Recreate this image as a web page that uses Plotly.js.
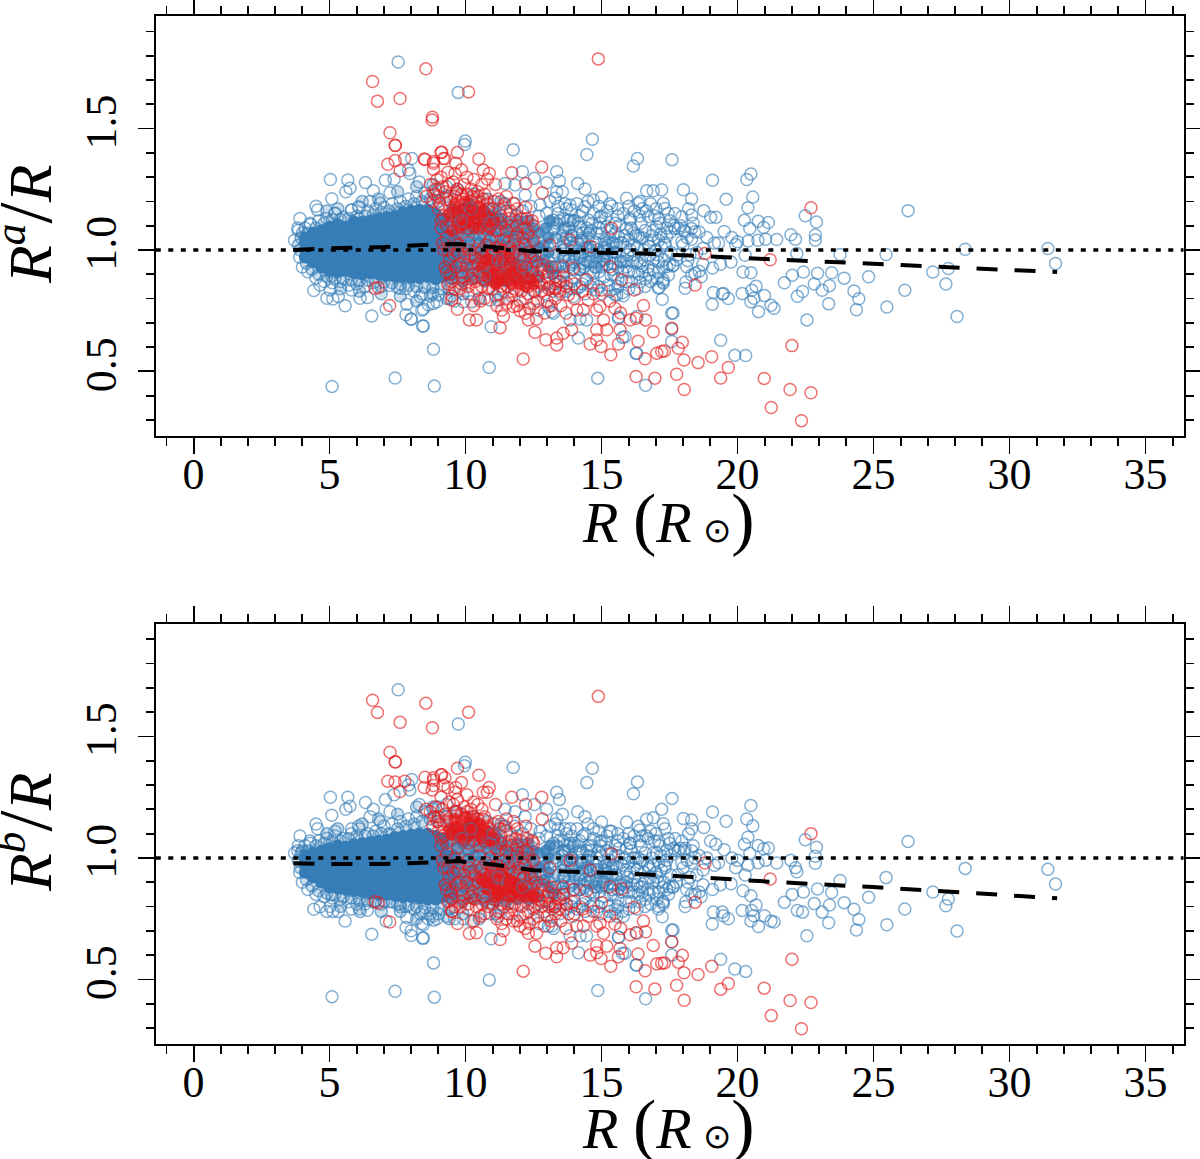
<!DOCTYPE html>
<html><head><meta charset="utf-8">
<script src="https://cdn.plot.ly/plotly-3.0.1.min.js"></script>
<style>html,body{margin:0;padding:0;background:#fff}</style></head>
<body><div id="chart" style="width:1200px;height:1159px"></div>
<script>
// each row: [R, R^a/R, R^b/R]
const blueCore=[[4.1,.97,.94],[4.1,1,.97],[4.1,1.03,.995],[4.12,1.05,1.01],
[4.4,.95,.92],[4.4,.98,.95],[4.42,1.01,.98],[4.4,1.04,1],[4.4,1.07,1.02],
[4.7,.93,.9],[4.7,.96,.93],[4.72,.99,.96],[4.7,1.02,.99],[4.7,1.05,1.01],[4.72,1.08,1.03],
[5,.915,.88],[5,.945,.91],[5.02,.975,.94],[5,1.005,.97],[5,1.035,1],[5.02,1.065,1.02],[5,1.095,1.04],
[5.3,.91,.875],[5.3,.94,.905],[5.32,.97,.935],[5.3,1,.965],[5.3,1.03,.995],[5.32,1.06,1.02],[5.3,1.09,1.04],[5.3,1.105,1.05],
[5.6,.915,.87],[5.6,.945,.9],[5.62,.975,.93],[5.6,1.005,.96],[5.6,1.035,.99],[5.62,1.065,1.02],[5.6,1.095,1.045],
[5.9,.905,.865],[5.9,.935,.895],[5.92,.965,.925],[5.9,.995,.955],[5.9,1.025,.985],[5.92,1.055,1.015],[5.9,1.085,1.04],[5.9,1.115,1.055],
[6.2,.9,.86],[6.2,.93,.89],[6.22,.96,.92],[6.2,.99,.95],[6.2,1.02,.98],[6.22,1.05,1.01],[6.2,1.08,1.04],[6.2,1.115,1.06],
[6.5,.905,.855],[6.5,.935,.885],[6.52,.965,.915],[6.5,.995,.945],[6.5,1.025,.975],[6.52,1.055,1.005],[6.5,1.085,1.035],[6.5,1.12,1.065],
[6.8,.9,.85],[6.8,.93,.88],[6.82,.96,.91],[6.8,.99,.94],[6.8,1.02,.97],[6.82,1.05,1],[6.8,1.08,1.03],[6.8,1.11,1.055],[6.8,1.13,1.07],
[7.1,.895,.85],[7.1,.925,.88],[7.12,.955,.91],[7.1,.985,.94],[7.1,1.015,.97],[7.12,1.045,1],[7.1,1.075,1.03],[7.1,1.105,1.06],[7.1,1.135,1.075],
[7.4,.89,.845],[7.4,.92,.875],[7.42,.95,.905],[7.4,.98,.935],[7.4,1.01,.965],[7.42,1.04,.995],[7.4,1.07,1.025],[7.4,1.1,1.055],[7.4,1.14,1.085],
[7.7,.89,.84],[7.7,.92,.87],[7.72,.95,.9],[7.7,.98,.93],[7.7,1.01,.96],[7.72,1.04,.99],[7.7,1.07,1.02],[7.7,1.1,1.05],[7.7,1.13,1.075],[7.7,1.155,1.09],
[8,.885,.84],[8,.915,.87],[8.02,.945,.9],[8,.975,.93],[8,1.005,.96],[8.02,1.035,.99],[8,1.065,1.02],[8,1.095,1.05],[8,1.125,1.08],[8,1.16,1.095],
[8.3,.885,.835],[8.3,.915,.865],[8.32,.945,.895],[8.3,.975,.925],[8.3,1.005,.955],[8.32,1.035,.985],[8.3,1.065,1.015],[8.3,1.095,1.045],[8.3,1.125,1.075],[8.3,1.165,1.1],
[8.6,.89,.83],[8.6,.92,.86],[8.62,.95,.89],[8.6,.98,.92],[8.6,1.01,.95],[8.62,1.04,.98],[8.6,1.07,1.01],[8.6,1.1,1.04],[8.6,1.13,1.07],[8.6,1.165,1.1],
[8.9,.88,.83],[8.9,.91,.86],[8.9,.94,.89],[8.92,.97,.92],[8.9,1,.95],[8.9,1.03,.98],[8.92,1.06,1.01],[8.9,1.09,1.04],[8.9,1.12,1.07],[8.9,1.15,1.09],
[9.2,.89,.84],[9.2,.92,.87],[9.2,.95,.9],[9.22,.98,.93],[9.2,1.01,.96],[9.2,1.04,.99],[9.2,1.07,1.02],[9.2,1.1,1.05],[9.2,1.13,1.08],
[9.5,.9,.85],[9.5,.94,.89],[9.5,.98,.93],[9.5,1.02,.97],[9.5,1.06,1.01]];
const blueMidFill=[[9.5,.88,.83],[9.5,.94,.89],[9.5,1,.95],[9.5,1.06,1.01],[9.5,1.12,1.07],[9.5,1.17,1.12],
[9.9,.87,.82],[9.9,.93,.88],[9.9,.99,.94],[9.9,1.05,1],[9.9,1.11,1.06],[9.9,1.17,1.12],
[10.3,.88,.83],[10.3,.94,.89],[10.3,1,.95],[10.3,1.06,1.01],[10.3,1.12,1.07],[10.3,1.17,1.11],
[10.7,.87,.82],[10.7,.93,.88],[10.7,.99,.94],[10.7,1.05,1],[10.7,1.11,1.06],[10.7,1.16,1.1],
[11.1,.87,.82],[11.1,.93,.88],[11.1,.99,.94],[11.1,1.05,1],[11.1,1.11,1.05],[11.1,1.15,1.09],
[11.5,.87,.82],[11.5,.93,.88],[11.5,.99,.94],[11.5,1.05,1],[11.5,1.11,1.05],
[11.9,.88,.83],[11.9,.94,.89],[11.9,1,.95],[11.9,1.06,1.01],[11.9,1.12,1.06],
[12.3,.88,.83],[12.3,.94,.89],[12.3,1,.95],[12.3,1.06,1.01],[12.3,1.12,1.06],
[12.7,.89,.84],[12.7,.95,.9],[12.7,1.01,.96],[12.7,1.07,1.02],
[13.05,.93,.88],[13.05,.99,.94],[13.05,1.05,1],
[9.7,.91,.86],[9.7,.97,.92],[9.7,1.03,.98],[9.7,1.09,1.04],[9.7,1.15,1.1],[10.1,.9,.85],[10.1,.96,.91],[10.1,1.02,.97],[10.1,1.08,1.03],[10.1,1.14,1.09],[10.1,1.19,1.13],[10.5,.91,.86],[10.5,.97,.92],[10.5,1.03,.98],[10.5,1.09,1.04],[10.5,1.15,1.09],[10.9,.9,.85],[10.9,.96,.91],[10.9,1.02,.97],[10.9,1.08,1.03],[10.9,1.14,1.08],[11.3,.9,.85],[11.3,.96,.91],[11.3,1.02,.97],[11.3,1.08,1.03],[11.3,1.13,1.07],[11.7,.9,.85],[11.7,.96,.91],[11.7,1.02,.97],[11.7,1.08,1.02],[12.1,.91,.86],[12.1,.97,.92],[12.1,1.03,.98],[12.1,1.09,1.03],[12.5,.91,.86],[12.5,.97,.92],[12.5,1.03,.98],[12.5,1.09,1.03],[12.9,.96,.91],[12.9,1.02,.97],[12.95,1.09,1.03],[13.1,1.12,1.05],[13.2,.9,.85]];
const blueMidSoft=[[13.3,.93,.88],[13.3,.99,.94],[13.3,1.05,1],[13.35,1.11,1.05],[13.6,.91,.86],[13.6,.97,.92],[13.6,1.03,.98],[13.65,1.09,1.03],[13.9,.94,.89],[13.9,1,.95],[13.9,1.06,1],[13.95,1.12,1.05],[14.2,.92,.87],[14.2,.98,.93],[14.25,1.04,.98],[14.5,.95,.9],[14.5,1.01,.96],[14.55,1.07,1.01],[14.8,.93,.88],[14.85,.99,.94],[15.1,.96,.9],[15.15,1.03,.97],[15.4,.99,.93],[15.7,.95,.89]];
const blueRim=[[4.2,1.07,1.03],[4.5,1.09,1.05],[4.8,1.11,1.06],[5.1,1.125,1.07],[5.4,1.125,1.07],[5.7,1.13,1.08],[6,1.14,1.09],[6.3,1.14,1.09],[6.6,1.145,1.09],[6.9,1.155,1.1],[7.2,1.16,1.1],[7.5,1.17,1.12],[7.8,1.18,1.13],[8.1,1.19,1.14],[8.4,1.2,1.15],[8.7,1.21,1.16],[9,1.2,1.15],[4.15,.945,.91],[4.35,.92,.885],[4.6,.9,.865],[4.9,.89,.855],[5.2,.885,.85],[5.5,.88,.84],[5.8,.875,.835],[6.1,.875,.83],[6.4,.875,.825],[6.7,.87,.825],[7,.87,.82],[7.3,.865,.82],[7.6,.86,.81],[7.9,.855,.805],[8.2,.85,.8],[8.5,.845,.795],[8.8,.845,.795],[9.1,.84,.79],[9.4,.84,.79],[3.95,1.05,1.02],[4,1.07,1.03],[3.85,1.02,.99],[3.92,1,.96],[4.9,1.16,1.1],[5.3,1.17,1.12],[6.2,1.2,1.14],[6.8,1.21,1.16],[7.5,1.24,1.18],[8.2,1.26,1.21],[5.4,.84,.8],[6.1,.83,.79],[6.9,.82,.78],[7.6,.81,.78],[8.2,.79,.75],[8.8,.82,.76],[9.4,.8,.75],[9.9,.82,.77],[10.5,.8,.75],[11.1,.81,.77],[8.8,1.27,1.21],[9.3,1.22,1.17],[9.7,1.25,1.19],[10.3,1.23,1.17],[10.8,1.21,1.15],[11.3,1.2,1.14]];
const blueEdge=[[3.85,1.08,1.05],[3.83,1.09,1.03],[3.71,1.04,1.02],[3.91,1.13,1.09],[4.28,1.11,1.07],[4.5,1.18,1.14],[4.56,1.165,1.12],[4.1,1.09,1.05],[4.3,1.105,1.06],[4.6,1.12,1.07],[4.9,1.13,1.08],[5.2,1.15,1.09],[5.5,1.135,1.08],[5.8,1.165,1.1],[6.1,1.175,1.12],[6.4,1.16,1.1],[6.7,1.17,1.11],[7,1.175,1.13],[7.3,1.19,1.14],[7.6,1.2,1.15],[7.9,1.21,1.16],[8.2,1.22,1.17],[8.5,1.235,1.19],[8.8,1.24,1.2],[9,1.25,1.21],[9.3,1.26,1.22],
[3.9,.97,.94],[4,.93,.9],[4.2,.91,.87],[4.5,.885,.85],[4.8,.87,.84],[5.1,.865,.835],[5.4,.87,.83],[5.7,.855,.82],[6,.86,.81],[6.3,.85,.81],[6.6,.865,.82],[6.9,.85,.81],[7.2,.855,.82],[7.5,.845,.81],[7.8,.84,.8],[8.1,.83,.79],[8.4,.82,.78],[8.7,.81,.77],[9,.815,.77],[9.3,.8,.76],[9.6,.79,.75],
[5.67,1.288,1.25],[5.03,1.29,1.25],[5.75,1.254,1.213],[5.6,1.24,1.2],[5.08,1.211,1.176],[6.32,1.278,1.228],[6.61,1.244,1.2],[6.49,1.2,1.17],[7.05,1.287,1.24],[7.37,1.291,1.26],[7.22,1.236,1.19],[5.2,1.151,1.11],[5.81,1.165,1.12],[6.06,1.178,1.13],[6.86,1.192,1.15],[8.02,1.377,1.323],[7.9,1.329,1.3],[7.95,1.315,1.28],[8.3,1.28,1.22],
[4.42,.833,.789],[4.65,.856,.799],[4.9,.801,.78],[5.12,.798,.78],[5.02,.835,.8],[5.57,.77,.74],[5.32,.808,.78],[5.81,.835,.79],[6.12,.801,.78],[6.39,.804,.785],[5.08,.893,.85],[6.55,.728,.686],[7.08,.757,.74],[7.84,.776,.755],[7.81,.733,.714],[8,.715,.681],[8.42,.687,.67],[8.45,.757,.725],[8.82,.78,.744],[8.33,.808,.77],[7.59,.842,.8]];
const blueFar=[[7.52,1.774,1.692],[9.73,1.649,1.551],[9.99,1.449,1.394],[9.96,1.434,1.379],[8.82,.591,.568],[7.41,.473,.451],[5.09,.438,.429],[8.85,.44,.427],[10.87,.516,.498],[10.94,.684,.667],[11.75,1.413,1.372],[14.66,1.456,1.369],[14.46,1.393,1.31],[16.32,1.377,1.313],[16.17,1.346,1.264],[17.59,1.372,1.245],[14.86,.472,.454],[16.62,.443,.42],
[12.09,1.322,1.26],[12.53,1.295,1.22],[12.98,1.277,1.2],[13.35,1.322,1.27],[13.45,1.284,1.24],[14.12,1.274,1.19],[14.39,1.251,1.17],[11.45,1.274,1.2],[11.82,1.268,1.19],[12.19,1.226,1.17],[13.35,1.24,1.16],[13.56,1.24,1.18],[13.29,1.213,1.14],[15,1.217,1.148],[14.7,1.206,1.12],[15.92,1.213,1.148],[16.41,1.2,1.115],[16.66,1.244,1.159],[16.9,1.244,1.165],[17.21,1.248,1.2],[18.01,1.248,1.162],[18.31,1.21,1.156],[17.27,1.192,1.141],[17.33,1.171,1.12],[16.35,1.192,1.13],[15.37,1.181,1.11],[14.39,1.178,1.1],[13.9,1.165,1.09],[13.84,1.185,1.12],[17.95,1.137,1.07],[18.31,1.144,1.12],[18.37,1.11,1.05],[17.7,1.089,1.03],[18.07,1.075,1.04],[18.43,1.075,1],[17.95,1.034,.98],[16.72,1.137,1.08],[17.03,1.096,1.02],[16.05,1.123,1.06],[15.92,1.089,1.04],[14.94,1.137,1.07],[15.19,1.096,1.03],[14.51,1.123,1.05],[14.21,1.096,1.03],[14.82,1.069,1],[15.62,1.055,1.01],[16.41,1.048,.98],[16.9,1.041,.97],[17.39,1.055,.99],[16.17,1.069,1],[15.43,1.027,.97],[14.33,1.034,.98],[13.59,1.082,1.03],[13.23,1.123,1.06],[12.98,1.151,1.09],[12.74,1.185,1.11],[13.84,1.123,1.06],
[14.33,.945,.89],[14.94,.952,.9],[15.43,.945,.89],[15.92,.931,.88],[16.41,.945,.88],[16.9,.918,.86],[17.39,.931,.87],[17.64,.938,.88],[18.13,.931,.87],[18.43,.904,.85],[17.27,.877,.82],[17.09,.842,.79],[17.27,.863,.81],[18.07,.842,.8],[17.23,.797,.758],[17.58,.739,.703],[17.63,.74,.703],[17.58,.674,.655],[17.58,.623,.6],[15.56,.815,.76],[15.8,.811,.76],[15.25,.856,.8],[14.7,.904,.85],[14.21,.849,.8],[14.82,.835,.78],[13.72,.863,.81],[13.96,.808,.76],[13.47,.822,.77],[13.04,.767,.72],[13.23,.739,.71],[14.45,.712,.68],[13.84,.712,.68],[14.21,.716,.68],[15.62,.719,.674],[15.86,.643,.608],[14.15,.637,.61],[16.3,.726,.69],[16.29,.575,.559],[8.45,.687,.67],[8,.716,.7],[8.39,.753,.73],[8.63,.774,.75],[8.94,.787,.75],[9.92,.787,.75],[10.22,.787,.74],[11.2,.794,.76],[12.68,.753,.73],[13.17,.746,.72],[10.9,.794,.77],
[19.08,1.287,1.189],[20.49,1.313,1.216],[20.34,1.29,1.16],[20.56,1.218,1.132],[19.58,1.209,1.151],[20.38,1.174,1.085],[18.76,1.162,1.125],[20.25,1.122,1.056],[19.01,1.135,1.07],[19.2,1.135,1.056],[26.27,1.162,1.068],[22.49,1.141,1.075],[22.9,1.115,1.044],[20.76,1.118,1.051],[21.13,1.113,1.041],[20.96,1.093,1.038],[20.45,1.088,1.019],[19.51,1.076,1.034],[21.96,1.063,.99],[22.13,1.044,.96],[22.86,1.062,1.007],[22.86,1.041,.978],[21.44,1.043,.979],[21.03,1.044,.99],[20.75,1.04,.98],[20.39,1.037,.97],[20,1.034,.99],[28.37,1.003,.957],[31.41,1.006,.953],[31.69,.944,.893],[25.46,.981,.919],[23.77,.981,.907],[22.18,.985,.943],[20.28,.978,.93],[19.76,.95,.894],[20.2,.909,.865],[20.49,.906,.844],[22.01,.896,.85],[22.42,.909,.86],[22.94,.904,.872],[23.46,.906,.858],[23.92,.884,.816],[24.82,.89,.838],[27.18,.909,.86],[27.75,.924,.831],[27.66,.86,.803],[21.72,.865,.818],[22.82,.86,.812],[23.38,.853,.806],[23.11,.834,.777],[22.39,.829,.777],[22.2,.809,.784],[24.28,.831,.789],[24.46,.799,.747],[26.15,.834,.79],[23.35,.778,.733],[24.37,.754,.703],[25.49,.765,.725],[28.07,.726,.699],[22.55,.712,.68],[20.99,.812,.762],[20.68,.851,.806],[20.52,.834,.784],[20.17,.821,.784],[20.6,.801,.762],[20.49,.787,.74],[21.23,.772,.74],[21.34,.76,.736],[20.77,.746,.718],[19.07,.776,.728],[19.11,.825,.777],[19.44,.819,.777],[19.66,.8,.75],[19.48,.821,.762],[19.38,.628,.583],[19.9,.566,.543],[20.3,.565,.533],[16.27,.574,.559],[15.63,.724,.674],[15.77,.64,.608],
[18.59,1.074,1.01],[18.87,1.051,1],[19.3,1.029,.98],[19.79,1.051,1],[19.08,.926,.87],[19.37,.941,.89],[18.59,.912,.86],[18.73,.941,.89],[18.31,.897,.85],[18.66,.89,.84],[18.1,.868,.82],[19.93,1.022,.96],[19.15,1.029,.97],[18.73,1.007,.95],[18.31,1.044,.98],[18.03,1.081,1.03],[17.82,1.088,1.03],[17.54,1.074,1.01],[17.18,1.066,1.01],[18.31,1.088,1.03],[18.17,.956,.9],[17.61,.934,.88],[17.04,.882,.83],[17.25,.868,.82],[17.46,.897,.85],[17.11,.846,.8],[16.62,.882,.83],[16.41,.868,.82],[15.77,.824,.78],[15.49,.816,.77],[15.92,.956,.9],[16.48,.934,.88],[16.06,1,.94],[16.76,1.015,.96],[17.32,1.029,.97],[16.34,1.059,1],[15.77,1.029,.97],[15.21,1,.94],[15.35,.897,.85],[15.7,.956,.9],[15.07,.941,.89],
[13.7,1.05,.99],[13.9,1.01,.96],[14.1,1.07,1.02],[14.3,.99,.94],[14.5,1.05,.99],[14.7,1.01,.95],[14.9,1.09,1.03],[15.1,1.04,.98],[13.8,.96,.9],[14,.92,.87],[14.2,.97,.91],[14.6,.95,.9],[14.9,.91,.86],[15.2,.97,.91],[15.5,.99,.93],[13.6,.9,.85],[13.9,.87,.82],[14.4,.88,.83],[14.7,.86,.81],[15.1,.89,.84],[15.6,.88,.83],[15.9,.87,.82],[16.2,.91,.86],[16,1.04,.98],[16.6,1.08,1.02],[15.5,1.11,1.05],[15.2,1.16,1.09],[14.7,1.15,1.08],[14.2,1.14,1.07],[13.9,1.06,1],[16.8,.98,.92],[17.1,.95,.9],[16.6,.96,.9],[16.2,1.02,.96],[15.8,1.15,1.08],[16.4,1.14,1.07],[17,1.17,1.1],[17.5,1.12,1.06],[17.2,1.01,.95],[17.8,.98,.93],[18,1.02,.96],[18.5,.99,.93],[12.5,.83,.79],[12.9,.82,.78],[13.2,.83,.79],[12.2,.8,.77],[11.7,.81,.77],[11.4,.83,.8]];
const blueFringe=[[13.4,1.15,1.09],[13.6,1.13,1.07],[13.8,1.09,1.03],[14,1.12,1.06],[14.1,1.03,.98],[14.3,1.07,1.02],[14.4,1.01,.96],[14.6,1.08,1.03],[14.8,1.03,.97],[15,1.07,1.01],[15.1,1.01,.95],[15.3,1.05,.99],[15.5,1.07,1.01],[15.7,1.03,.98],[15.9,1.01,.95],[16.1,1.09,1.03],[16.3,1.01,.95],[16.5,1.05,.99],[16.7,1.03,.97],[16.9,1.08,1.02],[17.1,1.04,.98],[17.4,1.09,1.03],[13.6,1,.95],[13.8,.93,.88],[14,.98,.93],[14.2,.92,.87],[14.4,.96,.91],[14.6,.91,.86],[14.8,.97,.91],[15,.93,.88],[15.2,.94,.88],[15.4,.92,.87],[15.6,.93,.87],[15.8,.95,.89],[16,.91,.86],[16.3,.95,.89],[16.5,.91,.86],[16.7,.93,.87],[16.9,.96,.9],[17.1,.91,.86],[17.3,.96,.9],[17.5,.94,.88],[13.5,.87,.83],[13.7,.83,.79],[14.1,.84,.79],[14.4,.82,.78],[14.6,.85,.8],[15,.82,.77],[15.3,.83,.78],[15.6,.85,.8],[16,.84,.79],[16.3,.84,.79],[16.6,.85,.8],[16.8,.87,.81],[13.3,.86,.81],[13,.86,.82],[12.7,.85,.81],[13.7,1.17,1.1],[14.1,1.19,1.12],[14.5,1.2,1.14],[14.9,1.18,1.11],[15.3,1.19,1.11],[15.6,1.17,1.1],[16,1.18,1.1],[16.5,1.17,1.09],[16.8,1.19,1.11],[17.1,1.13,1.07],[17.7,1.15,1.08],[18.2,1.17,1.1],[13.1,1.2,1.13],[13.4,1.18,1.12],[12.7,1.14,1.08],[12.4,1.18,1.12],[12.1,1.16,1.1],[11.8,1.19,1.13],[11.5,1.16,1.11],[14.6,1,.95],[15.4,1.03,.96],[16.2,.98,.92],[17,1,.94],
[13.25,1.09,1.04],[13.35,1.04,.99],[13.4,.98,.93],[13.3,.93,.88],[13.45,1.12,1.07],[13.55,1.06,1.01],[13.65,.97,.92],[13.5,.94,.89],[13.75,1.12,1.05],[13.85,1.03,.98],[13.95,.95,.9],[14.05,1.01,.96],[14.15,1.11,1.05],[14.25,1.04,.99],[14.35,.93,.88],[14.45,1.09,1.03],[14.55,.98,.93],[14.65,1.11,1.05],[14.75,.93,.88],[14.85,1,.95],[14.95,1.11,1.05],[15.05,.96,.9],[15.15,1.13,1.06],[15.25,1.02,.96],[15.35,1.08,1.02],[15.45,.9,.85],[15.55,1.02,.96],[15.65,1.1,1.04],[15.75,.91,.86],[15.85,1.06,1],[15.95,.98,.92],[16.05,1.13,1.06],[16.15,.95,.89],[16.25,1.06,1],[16.35,.9,.85],[16.45,1.11,1.05],[16.55,1,.94],[16.65,1.16,1.09],[16.75,.9,.85],[16.85,1.06,1],[16.95,1.14,1.07],[17.05,.98,.92],[17.15,1.11,1.05],[17.25,.93,.88],[17.35,1.02,.96],[17.45,1.15,1.08],[17.55,.99,.93],[17.65,1.1,1.04],[17.75,.96,.9],[17.9,1.1,1.04],[18.15,1.05,.99],[18.25,.98,.92],[13.9,.84,.8],[14.3,.86,.81],[14.9,.85,.8],[15.5,.84,.79],[16.1,.87,.82],[13.65,1.19,1.12],[14.3,1.16,1.09],[15,1.14,1.07],[15.6,1.14,1.07],[16.2,1.16,1.09]];
const blueOverRed=[[9.85,1.12,1.08],[10.2,1.17,1.12],[9.9,.93,.89],[10.35,1.02,.98],[10.9,1.11,1.06],[11.2,.96,.92],[11.6,1.05,1],[10.7,.89,.85],[12.1,.93,.88],[12.4,1.07,1.02],[9.4,1.07,1.02],[9.6,.99,.95],[11.9,1.14,1.09],[10.1,1.06,1.03],[11,1.16,1.1],[12.8,.99,.94],[13.2,.93,.89],[11.4,1.19,1.13],[13,1.07,1.02]];
const redFill=[[9.4,1.15,1.12],[9.6,1.19,1.16],[9.7,1.12,1.09],[9.9,1.16,1.13],[10,1.2,1.17],[10.1,1.12,1.09],[10.2,1.17,1.14],[10.4,1.13,1.1],[10.5,1.18,1.14],[10.6,1.1,1.08],[10.8,1.14,1.11],[10.9,1.09,1.07],[9.8,1.09,1.11],[10.3,1.09,1.15],[9.5,1.08,1.1],[9.7,1.16,1.13],[10.15,1.14,1.11],[10.65,1.16,1.12],[10.35,1.15,1.12],[9.95,1.1,1.07],[11.05,1.12,1.08],
[10.6,.93,.91],[10.8,.89,.87],[10.9,.96,.93],[11.1,.92,.89],[11.2,.87,.85],[11.4,.95,.92],[11.5,.9,.87],[11.7,.86,.84],[11.8,.93,.9],[11.9,.88,.86],[12.1,.9,.87],[12.2,.85,.84],[12.4,.88,.85],[11.3,.99,.94],[11.6,.97,.91],[11,.9,.87],[11.35,.88,.86],[11.7,.91,.88],[12,.86,.85],[12.5,.86,.84],[10.75,.96,.9],[11.1,.86,.84]];
const redHollow=[[6.58,1.694,1.649],[6.76,1.613,1.599],[7.59,1.624,1.558],[8.54,1.746,1.637],[10.11,1.651,1.6],[8.78,1.547,1.536],[14.88,1.787,1.665],[7.22,1.483,1.435],[7.41,1.431,1.396],[7.42,1.43,1.395],[7.14,1.353,1.316],[7.41,1.368,1.313],[7.76,1.377,1.316],[7.59,1.326,1.273],[8.51,1.373,1.332],[8.82,1.357,1.32],[8.82,1.332,1.298],[9.1,1.402,1.342],[9.18,1.377,1.3],[8.77,1.535,1.28],[6.67,.842,.82],[6.79,.845,.815],[7.21,.771,.736],
[9.12,1.402,1.342],[8.48,1.375,1.29],[8.82,1.364,1.33],[9.24,1.377,1.33],[9.7,1.401,1.369],[9.64,1.357,1.29],[9.61,1.315,1.27],[10.49,1.375,1.34],[10.65,1.329,1.27],[10.87,1.315,1.29],[10.8,1.291,1.27],[11.7,1.318,1.25],[12.21,1.274,1.22],[12.8,1.342,1.25],[12.82,1.236,1.16],[11.76,1.192,1.15],[12.21,1.176,1.13],
[10.14,.712,.689],[10.4,.712,.692],[9.7,.756,.73],[9.49,.794,.78],[11.27,.68,.664],[11.33,.753,.73],[11.39,.726,.7],[11.76,.767,.74],[12.19,.739,.71],[12.31,.712,.69],[12.61,.716,.69],[12.55,.661,.637],[12.95,.63,.608],[13.35,.609,.593],[13.35,.637,.63],[13.59,.657,.63],[13.9,.671,.65],[14.09,.753,.72],[14.51,.794,.76],[14.33,.753,.72],[14.82,.753,.72],[14.94,.767,.73],[15.07,.712,.69],[14.82,.671,.64],[14.58,.613,.6],[14.82,.63,.61],[14.98,.602,.586],[15.34,.568,.554],[15.62,.613,.593],[15.68,.671,.627],[15.49,.76,.728],[15.19,.671,.637],[16.05,.712,.684],[16.27,.719,.693],[16.62,.712,.696],[16.54,.771,.74],[16.2,.835,.796],[16.9,.663,.64],[16.34,.624,.605],[16.6,.552,.536],[17.03,.575,.564],[17.21,.582,.567],[17.31,.584,.568],[17.58,.678,.655],[17.97,.62,.599],[17.82,.595,.571],[18.03,.547,.527],[18.55,.536,.52],[16.27,.479,.47],[16.96,.472,.461],[17.76,.488,.476],[18.04,.425,.414],[12.12,.551,.534],[13.1,.849,.81],[13.29,.842,.8],[13.84,1.041,.99],[13.59,.931,.88],[13.96,.925,.87],[15.37,1.089,1.016],[15.31,.931,.88],[15.74,.877,.872],[15,.835,.816],[14.58,1.014,.95],[18.44,.856,.818],[13.78,.815,.77],[14.45,.877,.865],
[22.7,1.174,1.1],[22,.606,.583],[19.05,.56,.554],[19.66,.516,.483],[19.38,.473,.46],[20.98,.471,.464],[21.93,.425,.413],[22.7,.412,.405],[21.24,.351,.351],[22.35,.297,.297],[21.2,.96,.913],[18.8,.985,.979],
[8.9,1.25,1.21],[9.15,1.26,1.2],[9.4,1.27,1.23],[9.7,1.25,1.24],[9.95,1.27,1.21],[10.2,1.25,1.2],[10.45,1.24,1.22],[10.7,1.23,1.17],[8.8,1.2,1.13],[9,1.22,1.17],[9.3,1.21,1.15],[9.6,1.22,1.19],[9.9,1.21,1.14],[10.2,1.2,1.16],[10.5,1.2,1.14],[10.8,1.19,1.13],[11,1.17,1.1],[11.3,1.14,1.09],[11.6,1.13,1.07],[11.9,1.1,1.05],[12.2,1.09,1.03],[12.5,1.1,1.06],[13.1,1.02,.96],
[9,1.17,1.11],[9.2,1.14,1.09],[9.1,1.09,1.05],[9.3,1.05,1.02],[9.2,1,.96],[9.4,.96,.92],[9.3,.91,.87],[9.5,.87,.83],[9.6,1.04,1],[9.7,.99,.95],[9.8,.94,.9],[9.9,.89,.85],[10.1,1.03,.99],[10.2,.98,.94],[10.3,.93,.89],[10.2,.88,.84],[10.5,1.05,1.01],[10.6,1,.96],[10.7,.97,.93],[10.5,.91,.87],[10.9,1.04,1],[11,1,.96],[11.2,1.08,1.03],[11.4,1.04,.99],[11.6,1.01,.96],[11.8,1.04,.99],[12,.98,.93],[12.2,1.02,.97],[12.4,.97,.92],[12.6,.95,.9],[12.8,.92,.87],[13,.89,.84],[12.7,.87,.83],[13.3,.89,.85],
[9.8,.84,.8],[10.1,.82,.79],[10.4,.84,.8],[10.7,.8,.77],[11,.84,.81],[11.2,.82,.78],[11.5,.78,.75],[11.7,.83,.8],[12,.79,.76],[12.3,.82,.78],[12.5,.78,.75],[12.8,.83,.8],[13,.79,.76],[13.3,.8,.77],[13.5,.77,.74],[9.5,.81,.78],[12,.75,.72],[12.9,.74,.72],[13.7,.74,.71],[14,.8,.77],[14.3,.83,.79],[13.6,.89,.85],[14,.86,.82],[14.7,.82,.78],[15.3,.79,.76],[15.7,.74,.71],
[9.1,1.3,1.25],[9.35,1.32,1.29],[9.85,1.33,1.31],[10.05,1.3,1.26],[10.3,1.29,1.23],[10.6,1.27,1.2],[11.1,1.27,1.22],[11.5,1.22,1.16],[11.2,1.21,1.15],[11.9,1.17,1.12],[9.55,1.28,1.22],[8.7,1.27,1.19],[8.95,1.29,1.15],[8.55,1.22,1.2]];
const redDense=[[8.85,1.23,1.17],[9.05,1.19,1.14],[9.25,1.24,1.18],[9.45,1.2,1.15],[9.65,1.24,1.19],[9.85,1.23,1.18],[10.05,1.23,1.19],[10.25,1.22,1.17],[10.45,1.22,1.16],[10.65,1.21,1.16],[10.85,1.17,1.12],[11.05,1.2,1.14],[11.25,1.17,1.12],[11.45,1.19,1.13],[11.65,1.16,1.1],[11.85,1.14,1.08],[12.05,1.13,1.07],[12.25,1.13,1.08],[12.45,1.12,1.07],
[9.1,1.12,1.08],[9.3,1.1,1.06],[9.5,1.14,1.1],[9.7,1.07,1.04],[9.9,1.13,1.1],[10.1,1.09,1.06],[10.3,1.11,1.07],[10.5,1.09,1.05],[10.7,1.12,1.07],[10.9,1.12,1.08],[11.1,1.08,1.04],[11.3,1.11,1.06],[11.5,1.08,1.03],[11.7,1.1,1.05],[11.9,1.07,1.02],[12.1,1.05,1],[12.3,1.07,1.02],[12.5,1.04,.99],
[9.15,1.03,.99],[9.35,1,.96],[9.55,.98,.94],[9.75,1.02,.98],[9.95,.97,.93],[10.15,1,.96],[10.35,.97,.93],[10.55,.99,.95],[10.75,1.02,.98],[10.95,.98,.94],[11.15,1.01,.97],[11.35,1,.95],[11.55,1.03,.98],[11.75,.99,.94],[11.95,1.01,.96],[12.15,.96,.92],[12.35,.99,.94],[12.55,.98,.93],[13.15,.93,.88],
[9.25,.93,.89],[9.45,.9,.86],[9.65,.93,.89],[9.85,.91,.87],[10.05,.94,.9],[10.25,.9,.86],[10.45,.94,.9],[10.65,.88,.84],[10.85,.92,.88],[11.05,.94,.9],[11.25,.94,.9],[11.45,.88,.85],[11.65,.94,.9],[11.85,.9,.87],[12.05,.93,.89],[12.25,.93,.88],[12.45,.91,.87],[12.65,.89,.85],[12.85,.94,.89],[13.05,.91,.86],[13.45,.87,.83],
[9.35,.86,.82],[9.6,.84,.8],[9.85,.86,.82],[10.1,.85,.81],[10.35,.87,.83],[10.6,.85,.81],[10.85,.84,.8],[11.05,.87,.83],[11.3,.85,.81],[11.55,.85,.81],[11.8,.84,.81],[12.05,.83,.8],[12.3,.85,.81],[12.55,.83,.8],[12.8,.86,.82],[13.05,.84,.8],[13.3,.84,.8],[11.15,.77,.75],[11.9,.77,.74],[12.65,.79,.76],[12.35,.76,.73],[13.15,.77,.74],[13.45,.83,.79],[13.7,.85,.81],[11.55,.8,.77],[10.55,.79,.76],[10.3,.77,.74]];
const fitR=[3.67,5,7,8,8.7,9.7,10.5,11,12.5,14.2,15,16.5,18,20,21.2,25,28,31,31.75];
const fitA=[1,1.007,1.012,1.019,1.022,1.025,1.018,1.012,.994,.991,.99,.985,.978,.968,.963,.944,.93,.915,.909];
const fitB=[.978,.975,.975,.977,.982,.987,.979,.973,.949,.943,.938,.933,.924,.909,.902,.88,.858,.84,.834];
const xTicks=[0,5,10,15,20,25,30,35];
const yTicks=[0.5,1,1.5];
const blueC='rgba(55,126,184,0.62)',redC='rgba(228,26,28,0.62)';
const serif='"Liberation Serif","Times New Roman",serif';
const col=(rows,i)=>rows.map(r=>r[i]);
function pts(rows,yi,xa,ya,color,fill,size){return {type:'scatter',mode:'markers',x:col(rows,0),y:col(rows,yi),xaxis:xa,yaxis:ya,hoverinfo:'skip',
  marker:{size:size||12,color:fill,line:{color:color,width:1.5}}};}
const none='rgba(0,0,0,0)';
const traces=[];
[[1,'x','y',fitA],[2,'x2','y2',fitB]].forEach(([yi,xa,ya,fit])=>{
  traces.push(pts(blueCore,yi,xa,ya,'rgb(55,126,184)','rgb(55,126,184)',11));
  traces.push(pts(blueMidSoft,yi,xa,ya,blueC,'rgba(55,126,184,0.3)',12));
  traces.push(pts(blueMidFill,yi,xa,ya,blueC,'rgba(55,126,184,0.75)',11));
  traces.push(pts(blueRim,yi,xa,ya,blueC,'rgba(55,126,184,0.25)'));
  traces.push(pts(blueEdge,yi,xa,ya,blueC,none));
  traces.push(pts(blueFar,yi,xa,ya,blueC,none));
  traces.push(pts(blueFringe,yi,xa,ya,blueC,none));
  traces.push(pts(redFill,yi,xa,ya,redC,'rgba(228,26,28,0.7)',11));
  traces.push(pts(redDense,yi,xa,ya,redC,'rgba(228,26,28,0.12)'));
  traces.push(pts(redHollow,yi,xa,ya,redC,none));
  traces.push(pts(blueOverRed,yi,xa,ya,'rgba(55,126,184,0.5)',none));
  traces.push({type:'scatter',mode:'lines',x:fitR,y:fit,xaxis:xa,yaxis:ya,hoverinfo:'skip',line:{color:'#000',width:4,dash:'21px,17px'}});
});
const tickF={family:serif,size:44,color:'#000'};
const L=155.8/1200,Rr=1183.6/1200;
function xax(anchor){return {domain:[L,Rr],range:[-1.39,36.4],anchor:anchor,tickmode:'array',tickvals:xTicks,ticktext:xTicks.map(String),ticks:'outside',ticklen:16,tickwidth:1.8,tickcolor:'#000',tickfont:tickF,ticklabelstandoff:-18,showline:true,linewidth:2,linecolor:'#000',mirror:'ticks',showgrid:false,zeroline:false,
  minor:{dtick:1,tick0:0,ticks:'outside',ticklen:8,tickwidth:1.8,tickcolor:'#000',showgrid:false}};}
function yax(anchor,dom){return {domain:dom,range:[0.235,1.962],anchor:anchor,tickmode:'array',tickvals:yTicks,ticktext:['0.5','1.0','1.5'],tickangle:-90,ticks:'outside',ticklen:16,tickwidth:1.8,tickcolor:'#000',tickfont:tickF,ticklabelstandoff:4,showline:true,linewidth:2,linecolor:'#000',mirror:'ticks',showgrid:false,zeroline:false,
  minor:{dtick:0.1,tick0:0,ticks:'outside',ticklen:8,tickwidth:1.8,tickcolor:'#000',showgrid:false}};}
function hline(yr){return {type:'line',xref:'paper',yref:yr,x0:L,x1:Rr,y0:1,y1:1,line:{color:'#000',width:3.5,dash:'5px,7.5px'},layer:'above'};}
const big=s=>'<span style="font-size:70px">'+s+'</span>';
function ann(text,x,y,angle,size){return {text:text,xref:'paper',yref:'paper',x:x/1200,y:1-y/1159,xanchor:'center',yanchor:'middle',showarrow:false,textangle:angle||0,font:{family:serif,size:size||58,color:'#000'}};}
const xTitle='<i>R</i> '+big('(')+'<i>R</i>\u2009<span style="font-size:34px">⊙</span>'+big(')');
const slash='<span style="font-size:76px">/</span>';
const layout={width:1200,height:1159,autosize:false,margin:{l:0,r:0,t:0,b:0},paper_bgcolor:'#fff',plot_bgcolor:'#fff',showlegend:false,
  xaxis:xax('y'),yaxis:yax('x',[1-435.7/1159,1-16.4/1159]),
  xaxis2:xax('y2'),yaxis2:yax('x2',[1-1043.8/1159,1-624.2/1159]),
  shapes:[hline('y'),hline('y2')],
  annotations:[ann(xTitle,668,518),ann(xTitle,668,1124),
    ann('<i>R</i><sup><i>a</i></sup>'+slash+'<i>R</i>',25,224,-90,62),ann('<i>R</i><sup><i>b</i></sup>'+slash+'<i>R</i>',25,832,-90,62)]};
Plotly.newPlot('chart',traces,layout,{staticPlot:true,displayModeBar:false});
</script></body></html>
